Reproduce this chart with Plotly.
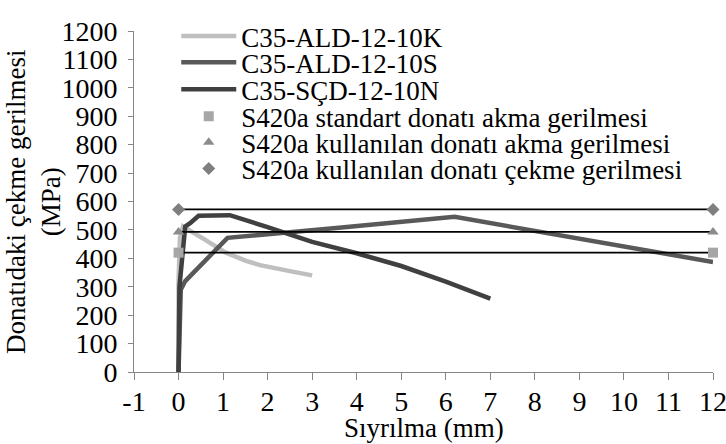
import plotly.graph_objects as go

# ---- data ----
k10_x = [0, 0.0, 0.03, 0.1, 0.6, 1.05, 1.5, 1.83, 2.5, 3.0]
k10_y = [0, 315, 470, 512, 465, 421, 392, 376, 355, 340]

s10_x = [0, 0.05, 0.15, 1.1, 3.6, 6.2, 12]
s10_y = [0, 290, 320, 472, 508, 546, 387]

n10_x = [0, 0.02, 0.15, 0.26, 0.45, 1.15, 2, 3, 4, 5, 6, 7]
n10_y = [0, 300, 512, 524, 550, 552, 510, 458, 418, 373, 318, 258]

ref_x = [0, 12]
std_yield = 420
act_yield = 493
act_tensile = 572

x_ticks = [-1, 0, 1, 2, 3, 4, 5, 6, 7, 8, 9, 10, 11, 12]
x_tick_labels = ["-1", "0", "1", "2", "3", "4", "5", "6", "7", "8", "9", "10", "11", "12"]

names = ["C35-ALD-12-10K", "C35-ALD-12-10S", "C35-SÇD-12-10N",
         "S420a standart donatı akma gerilmesi",
         "S420a kullanılan donatı akma gerilmesi",
         "S420a kullanılan donatı çekme gerilmesi"]

FONT = "Liberation Serif, Times New Roman, serif"
FS = 27
TFS = 28

fig = go.Figure()

fig.add_trace(go.Scatter(x=k10_x, y=k10_y, mode="lines", name=names[0],
                         line=dict(color="#bfbfbf", width=4.5), legend="legend"))
fig.add_trace(go.Scatter(x=s10_x, y=s10_y, mode="lines", name=names[1],
                         line=dict(color="#595959", width=4.5), legend="legend2"))
fig.add_trace(go.Scatter(x=n10_x, y=n10_y, mode="lines", name=names[2],
                         line=dict(color="#404040", width=4.5), legend="legend3"))

refs = [(std_yield, "square", "#a6a6a6", names[3], "legend4"),
        (act_yield, "triangle-up", "#8c8c8c", names[4], "legend5"),
        (act_tensile, "diamond", "#7f7f7f", names[5], "legend6")]
for val, sym, col, nm, lg in refs:
    fig.add_trace(go.Scatter(x=ref_x, y=[val, val], mode="lines", showlegend=False,
                             line=dict(color="black", width=1.8), hoverinfo="skip"))
    fig.add_trace(go.Scatter(x=ref_x, y=[val, val], mode="markers", name=nm, legend=lg,
                             marker=dict(symbol=sym, color=col, size=10), cliponaxis=False))

plot_top, plot_bot = 19.3, 372.3
ph = plot_bot - plot_top
legend_common = dict(x=(176 - 133.7) / 579.8, xanchor="left", yanchor="middle",
                     bgcolor="rgba(0,0,0,0)", itemwidth=55,
                     font=dict(family=FONT, size=FS, color="black"))
centers = [25, 52, 80, 108, 135, 162]
layout_legends = {}
for i, c in enumerate(centers):
    key = "legend" if i == 0 else f"legend{i+1}"
    d = dict(legend_common)
    d["y"] = 1 - (c - plot_top) / ph
    layout_legends[key] = d

fig.update_layout(
    width=726, height=444,
    margin=dict(l=134, r=12.5, t=19.3, b=71.7),
    paper_bgcolor="white", plot_bgcolor="white",
    font=dict(family=FONT, size=FS, color="black"),
    showlegend=True,
    **layout_legends,
)

fig.update_xaxes(range=[-1, 12], tickvals=x_ticks, ticktext=x_tick_labels,
                 showgrid=False, zeroline=False, automargin=False,
                 ticklabeloverflow="allow",
                 showline=True, linecolor="#868686", linewidth=1,
                 ticks="outside", ticklen=7, tickcolor="#868686",
                 ticklabelstandoff=-3,
                 tickfont=dict(family=FONT, size=TFS, color="black"))
fig.update_yaxes(range=[0, 1200], dtick=100, showgrid=False, zeroline=False,
                 automargin=False, ticklabeloverflow="allow",
                 showline=True, linecolor="#868686", linewidth=1,
                 ticks="outside", ticklen=5, tickcolor="#868686",
                 ticklabelstandoff=5,
                 tickfont=dict(family=FONT, size=TFS, color="black"))

fig.add_annotation(text="Sıyrılma (mm)",
                   xref="paper", yref="paper", x=0.5, y=(plot_bot - 430) / ph,
                   xanchor="center", yanchor="middle", showarrow=False,
                   font=dict(family=FONT, size=FS, color="black"))
fig.add_annotation(text="Donatıdaki çekme gerilmesi<br>(MPa)", textangle=-90,
                   xref="paper", yref="paper", x=(33 - 133.7) / 579.8, y=0.5,
                   xanchor="center", yanchor="middle", showarrow=False,
                   font=dict(family=FONT, size=FS, color="black"))

fig.write_html("out.html")
